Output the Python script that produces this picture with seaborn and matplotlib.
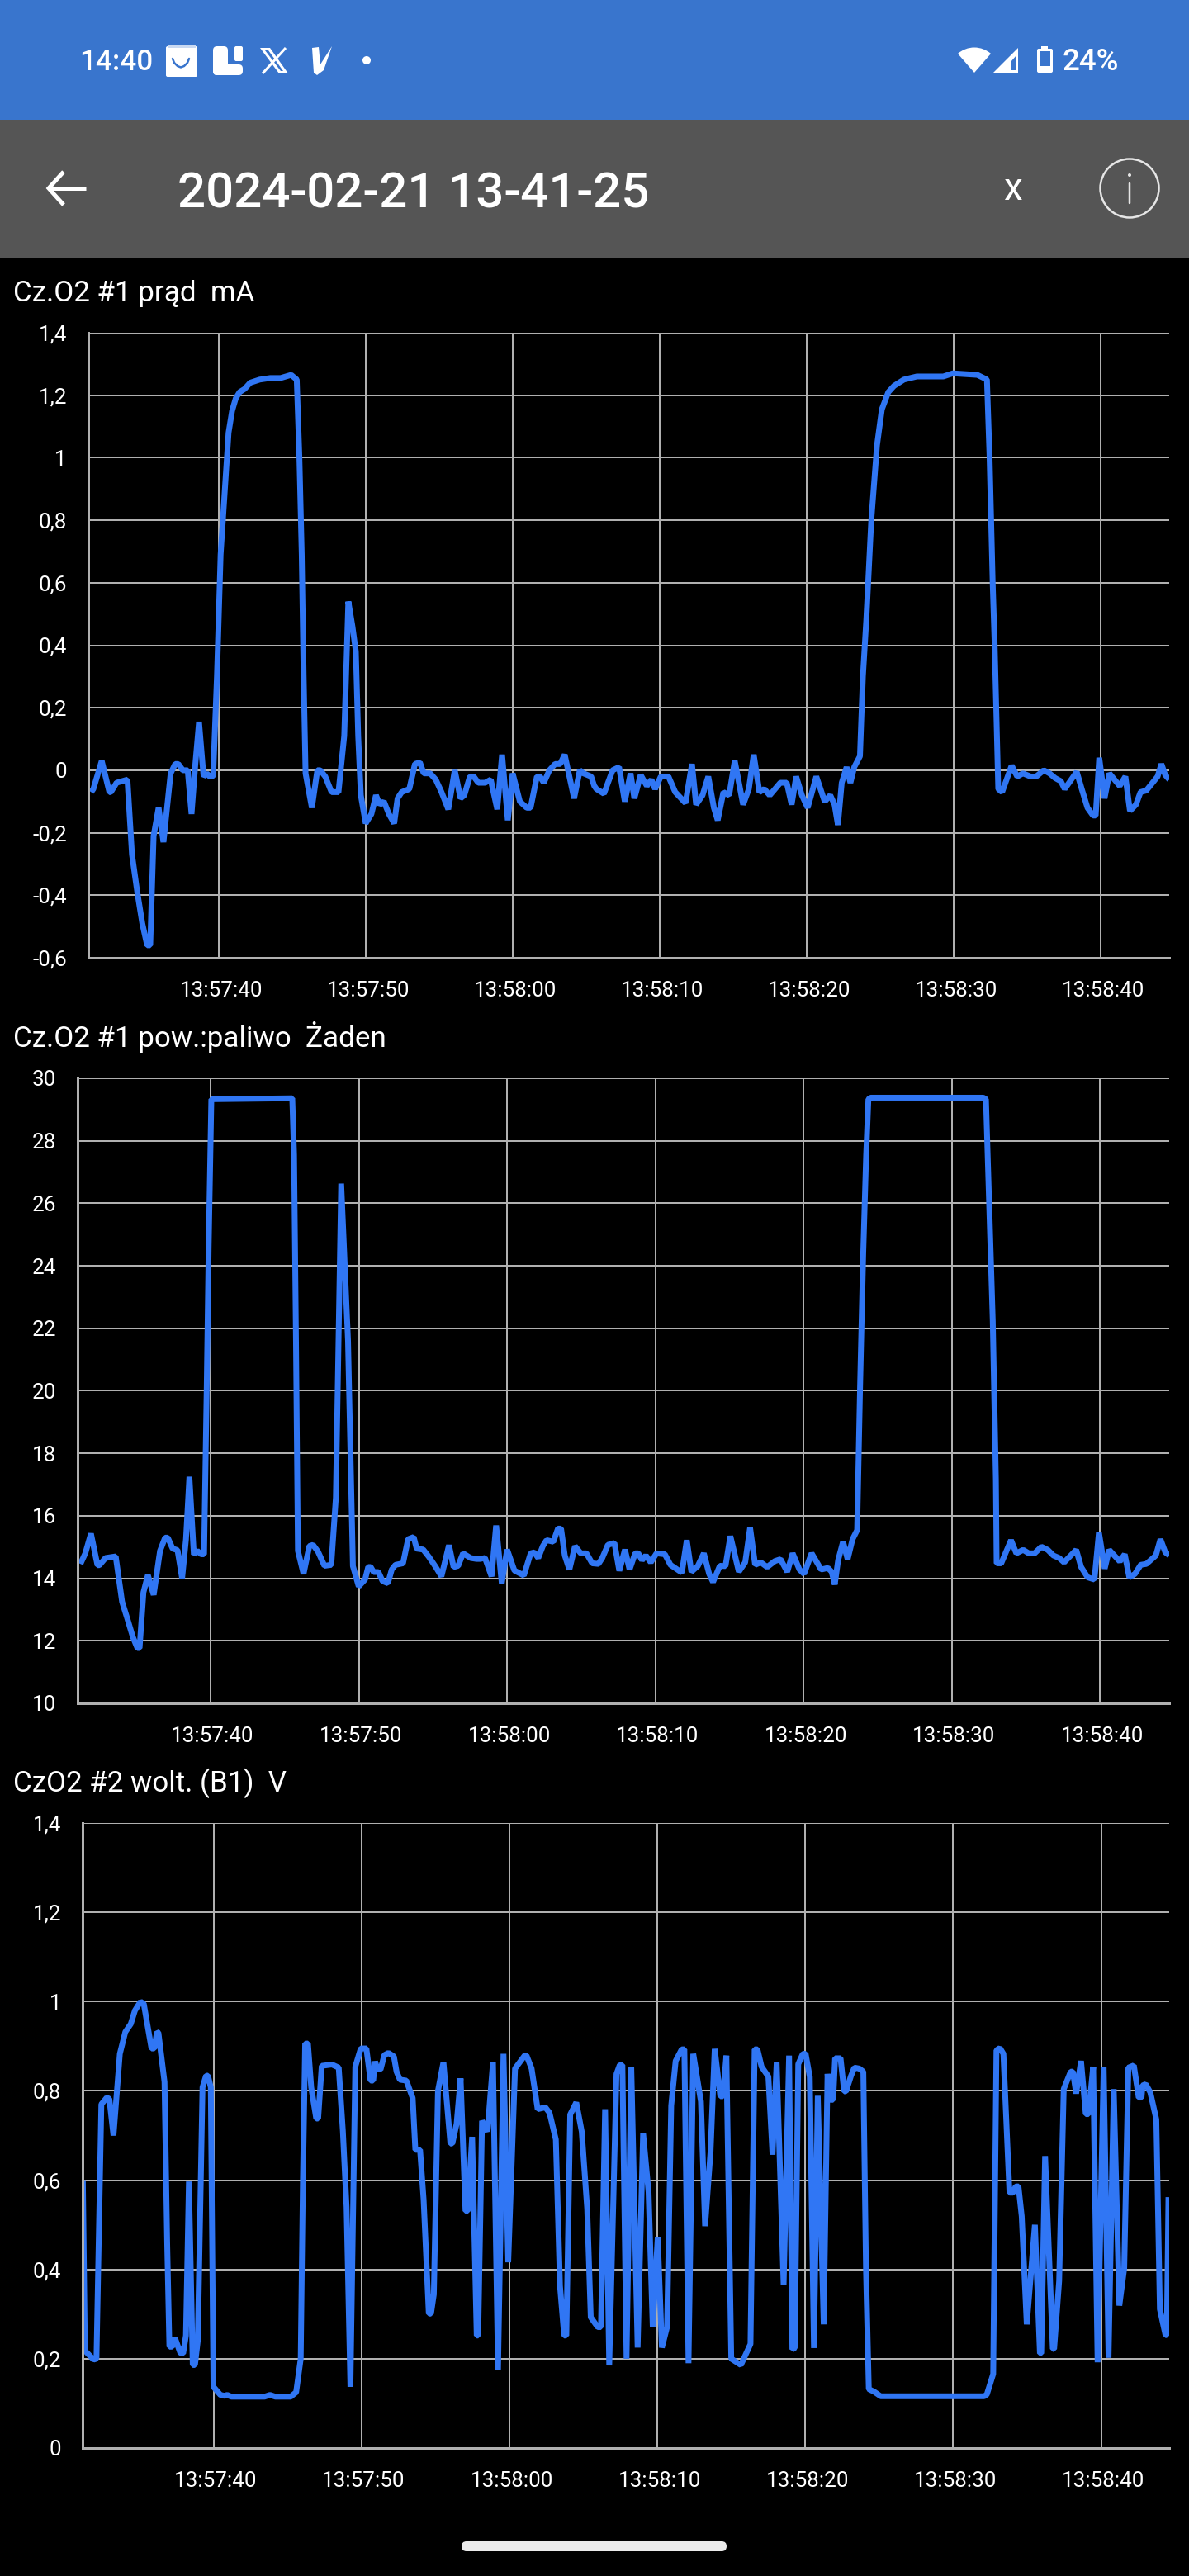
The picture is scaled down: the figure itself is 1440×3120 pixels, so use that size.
import matplotlib
matplotlib.use('Agg')
import matplotlib.pyplot as plt
import seaborn as sns
from matplotlib.patches import Rectangle, FancyBboxPatch, Circle, Wedge, Polygon
from matplotlib.transforms import ScaledTranslation

# seconds after 13:57:00
cur_t = [31.29,31.44,32.01,32.53,32.63,33.02,33.76,34.07,34.43,34.77,35.10,35.31,35.54,35.88,36.21,36.70,37.01,37.22,37.53,37.86,
         38.12,38.38,38.63,38.94,39.15,39.36,39.59,39.85,40.10,40.39,40.64,40.88,41.13,41.39,41.73,42.11,42.76,43.48,44.18,44.90,
         45.28,45.46,45.62,45.75,45.88,46.31,46.68,46.88,47.22,47.65,48.12,48.51,48.79,49.07,49.30,49.46,49.64,49.97,50.36,50.67,
         50.93,51.21,51.55,51.91,52.14,52.42,52.94,53.32,53.66,53.92,54.36,54.74,55.13,55.59,56.03,56.42,56.68,57.06,57.32,57.63,
         58.09,58.48,58.92,59.25,59.64,59.97,60.46,60.93,61.19,61.62,61.83,62.09,62.47,62.86,63.20,63.51,64.15,64.54,64.79,65.31,
         65.52,65.67,66.18,66.77,67.21,67.60,67.99,68.25,68.68,69.10,69.41,69.66,70.05,70.57,71.03,71.73,72.17,72.45,72.89,73.28,
         73.66,73.92,74.31,74.70,75.08,75.65,76.04,76.37,76.76,77.09,77.46,78.18,78.62,78.95,79.26,79.65,80.04,80.63,81.20,81.58,
         81.87,82.10,82.36,82.69,82.95,83.21,83.60,83.80,84.03,84.37,84.76,85.09,85.53,85.92,86.59,87.47,88.24,89.27,89.92,91.59,
         92.24,92.42,92.63,92.76,93.01,93.27,93.92,94.30,94.69,95.21,95.59,96.11,96.50,96.88,97.27,97.53,98.35,98.69,99.08,99.46,
         99.64,99.88,100.24,100.57,101.27,101.66,101.97,102.38,102.69,103.08,103.85,104.11,104.37,104.65]
cur_v = [-0.07,-0.06,0.03,-0.07,-0.07,-0.04,-0.03,-0.27,-0.39,-0.49,-0.56,-0.56,-0.21,-0.12,-0.23,-0.01,0.02,0.02,0.0,0.0,
         -0.14,0.02,0.155,-0.02,-0.01,-0.02,-0.02,0.30,0.69,0.90,1.08,1.15,1.19,1.21,1.22,1.24,1.25,1.255,1.255,1.265,
         1.25,1.00,0.69,0.30,-0.01,-0.12,0.0,0.0,-0.02,-0.07,-0.07,0.11,0.54,0.46,0.38,0.11,-0.08,-0.17,-0.14,-0.08,
         -0.11,-0.10,-0.14,-0.17,-0.09,-0.07,-0.06,0.02,0.025,-0.01,-0.01,-0.03,-0.07,-0.125,0.0,-0.09,-0.08,-0.02,-0.02,-0.04,
         -0.04,-0.03,-0.125,0.05,-0.16,-0.01,-0.10,-0.12,-0.12,-0.02,-0.02,-0.04,0.0,0.02,0.02,0.05,-0.09,0.0,-0.01,-0.02,
         -0.05,-0.06,-0.075,0.0,0.01,-0.10,-0.01,-0.09,-0.015,-0.05,-0.03,-0.06,-0.02,-0.02,-0.07,-0.105,0.02,-0.11,-0.08,-0.02,
         -0.12,-0.16,-0.07,-0.08,0.03,-0.11,-0.06,0.05,-0.07,-0.06,-0.08,-0.04,-0.04,-0.11,-0.02,-0.08,-0.12,-0.02,-0.10,-0.08,
         -0.11,-0.175,-0.04,0.01,-0.04,0.01,0.045,0.30,0.48,0.80,1.04,1.155,1.21,1.23,1.25,1.26,1.26,1.26,1.27,1.265,
         1.25,1.00,0.60,0.41,-0.06,-0.07,0.015,-0.02,-0.01,-0.02,-0.02,0.0,-0.01,-0.025,-0.035,-0.06,-0.005,-0.06,-0.12,-0.145,
         -0.145,0.04,-0.09,-0.01,-0.05,-0.02,-0.13,-0.11,-0.07,-0.065,-0.02,0.02,-0.015,-0.03]

lam_t = [31.22,31.55,31.93,32.37,32.50,32.91,33.60,34.03,34.37,34.75,35.06,35.21,35.47,35.77,36.16,36.59,36.93,37.11,37.44,37.77,
         38.08,38.34,38.57,38.87,39.10,39.36,39.56,39.74,39.87,40.05,45.51,45.63,45.76,45.89,46.27,46.66,46.91,47.25,47.68,48.14,
         48.45,48.63,48.81,49.04,49.27,49.47,49.60,49.99,50.42,50.63,50.80,51.00,51.32,51.60,51.96,52.22,52.47,52.98,53.32,53.70,
         53.90,54.34,54.72,55.19,55.57,56.08,56.39,56.70,57.03,57.54,57.93,58.18,58.51,58.95,59.26,59.64,60.00,60.49,61.13,61.59,
         61.84,62.10,62.41,62.66,63.12,63.43,63.64,63.89,64.20,64.58,64.97,65.35,65.74,66.16,66.42,66.80,67.24,67.57,67.95,68.26,
         68.64,68.85,69.10,69.36,69.69,70.08,70.64,71.02,71.79,72.12,72.43,72.86,73.27,73.63,73.89,74.35,74.73,75.06,75.63,76.06,
         76.39,76.73,77.11,77.54,78.06,78.44,78.90,79.26,79.72,80.03,80.54,81.18,81.64,81.89,82.10,82.33,82.66,82.97,83.30,83.61,
         83.81,84.02,84.22,84.37,84.53,92.12,92.30,92.51,92.76,92.97,93.02,93.33,93.99,94.35,94.81,95.19,95.58,96.04,96.47,96.85,
         97.24,97.57,98.39,98.72,99.16,99.62,99.92,100.31,100.61,101.33,101.66,101.97,102.35,102.74,103.12,103.76,104.07,104.40,104.68]
lam_v = [14.46,14.8,15.43,14.42,14.42,14.65,14.7,13.25,12.73,12.13,11.77,11.77,13.55,14.1,13.47,14.88,15.3,15.3,14.95,14.9,
         14.0,15.25,17.25,14.76,14.88,14.77,14.77,20.14,24.6,29.33,29.36,27.55,21.6,14.88,14.14,15.03,15.07,14.85,14.4,14.43,
         16.58,21.6,26.63,24.14,21.6,17.17,14.39,13.74,13.96,14.36,14.36,14.2,14.2,13.91,13.84,14.28,14.43,14.48,15.25,15.32,
         14.95,14.92,14.69,14.36,14.06,15.06,14.36,14.4,14.8,14.65,14.62,14.62,14.65,14.06,15.69,13.84,14.92,14.25,14.09,14.8,
         14.83,14.65,15.03,15.22,15.17,15.59,15.59,14.73,14.28,15.03,14.8,14.8,14.48,14.46,14.65,15.07,15.13,14.24,14.92,14.28,
         14.8,14.8,14.58,14.73,14.51,14.8,14.77,14.43,14.18,15.22,14.21,14.39,14.8,14.14,13.88,14.4,14.39,15.35,14.21,14.51,
         15.62,14.43,14.51,14.36,14.55,14.61,14.21,14.8,14.28,14.14,14.8,14.28,14.33,14.21,13.8,14.58,15.17,14.61,15.25,15.54,
         20.14,24.37,27.55,29.33,29.38,29.38,29.33,26.07,22.22,17.17,14.48,14.48,15.22,14.8,14.91,14.8,14.8,15.01,14.91,14.73,
         14.65,14.51,14.91,14.36,14.03,13.96,15.47,14.31,14.91,14.54,14.77,14.03,14.14,14.43,14.46,14.73,15.25,14.83,14.73]

volt_t = [31.15,31.29,31.88,32.07,32.40,32.77,32.94,33.22,33.65,34.02,34.39,34.67,35.05,35.27,35.79,35.98,36.16,36.26,36.67,36.85,
          37.00,37.19,37.37,37.75,37.93,38.12,38.32,38.58,38.73,38.92,39.24,39.48,39.61,39.80,39.98,40.45,40.73,40.91,41.19,43.43,
          43.80,44.17,45.20,45.57,45.88,46.03,46.18,46.37,46.59,46.93,47.06,47.30,47.99,48.45,48.73,48.98,49.24,49.57,49.94,50.32,
          50.60,50.78,50.91,51.06,51.28,51.53,51.81,52.18,52.36,52.59,53.02,53.45,53.63,53.95,54.19,54.54,54.69,54.88,55.16,55.53,
          56.00,56.13,56.42,56.69,57.02,57.17,57.47,57.78,57.88,58.14,58.51,58.88,59.22,59.59,59.91,60.37,61.02,61.15,61.49,61.90,
          62.42,62.70,63.13,63.41,63.69,63.84,64.10,64.51,64.88,65.25,65.49,65.96,66.18,66.46,66.74,67.23,67.45,67.63,67.91,68.23,
          68.66,69.03,69.40,69.68,70.02,70.30,70.65,70.93,71.23,71.64,71.82,72.10,72.42,72.94,73.22,73.59,73.87,74.25,74.43,74.66,
          74.99,75.64,76.29,76.57,76.76,77.04,77.50,77.78,78.06,78.53,78.90,79.12,79.28,79.52,79.83,80.02,80.30,80.58,80.84,81.24,
          81.50,81.69,81.88,82.01,82.38,82.62,82.75,83.08,83.31,83.64,83.92,84.10,84.29,84.66,85.09,92.09,92.27,92.70,92.83,92.92,
          93.15,93.39,93.57,93.80,94.04,94.22,94.41,94.63,94.97,95.52,95.86,95.95,96.21,96.73,96.82,97.16,97.47,97.94,98.09,98.31,
          98.64,98.96,99.15,99.46,99.76,100.17,100.50,100.85,101.23,101.56,101.84,102.21,102.54,102.73,102.80,103.01,103.32,103.73,103.97,104.35,
          104.44,104.55]
volt_v = [0.60,0.218,0.198,0.20,0.77,0.785,0.782,0.70,0.883,0.932,0.95,0.98,1.0,0.995,0.895,0.895,0.932,0.93,0.82,0.46,
          0.227,0.227,0.247,0.212,0.212,0.252,0.597,0.186,0.186,0.24,0.808,0.834,0.834,0.808,0.137,0.119,0.117,0.119,0.115,0.115,
          0.119,0.115,0.115,0.125,0.20,0.60,0.906,0.906,0.808,0.738,0.738,0.856,0.859,0.852,0.71,0.54,0.137,0.854,0.895,0.895,
          0.823,0.823,0.866,0.848,0.848,0.88,0.885,0.877,0.843,0.825,0.823,0.784,0.668,0.668,0.556,0.301,0.301,0.344,0.80,0.864,
          0.682,0.682,0.726,0.828,0.531,0.531,0.697,0.252,0.252,0.733,0.709,0.864,0.175,0.883,0.416,0.85,0.879,0.879,0.85,0.759,
          0.763,0.751,0.691,0.363,0.252,0.252,0.747,0.774,0.709,0.536,0.293,0.271,0.271,0.759,0.185,0.838,0.858,0.858,0.20,0.854,
          0.225,0.705,0.573,0.271,0.473,0.225,0.271,0.767,0.867,0.893,0.893,0.19,0.883,0.776,0.497,0.664,0.894,0.788,0.788,0.879,
          0.20,0.186,0.233,0.893,0.893,0.854,0.832,0.657,0.864,0.366,0.879,0.221,0.224,0.86,0.883,0.883,0.831,0.224,0.789,0.277,
          0.838,0.78,0.78,0.873,0.873,0.799,0.799,0.833,0.852,0.85,0.843,0.40,0.132,0.126,0.116,0.116,0.12,0.166,0.60,0.891,
          0.896,0.883,0.746,0.572,0.572,0.586,0.586,0.519,0.277,0.50,0.212,0.212,0.654,0.222,0.222,0.374,0.804,0.843,0.843,0.794,
          0.867,0.748,0.748,0.854,0.192,0.854,0.202,0.804,0.319,0.403,0.852,0.857,0.785,0.785,0.812,0.815,0.797,0.736,0.311,0.253,
          0.253,0.562]

x_ticks = [40, 50, 60, 70, 80, 90, 100]
x_labels = ['13:57:40', '13:57:50', '13:58:00', '13:58:10', '13:58:20', '13:58:30', '13:58:40']
cur_ticks = [-0.6, -0.4, -0.2, 0, 0.2, 0.4, 0.6, 0.8, 1, 1.2, 1.4]
lam_ticks = [10, 12, 14, 16, 18, 20, 22, 24, 26, 28, 30]
volt_ticks = [0, 0.2, 0.4, 0.6, 0.8, 1, 1.2, 1.4]

LINE = '#3076f4'
GRID = '#b0b0b0'
TICK = '#999999'
W, H = 1440, 3120

sns.set_theme(style='dark', rc={'axes.facecolor': 'black', 'figure.facecolor': 'black'})
plt.rcParams['font.family'] = ['Roboto', 'DejaVu Sans']

fig = plt.figure(figsize=(W / 100, H / 100), dpi=100)


def px(v):
    # font and line sizes come from the screenshot in pixels
    return v * 0.72


def panel(box, t, v, xlim, ylim, yticks, title, title_y):
    left, top, right, bottom = box
    ax = fig.add_axes([left / W, 1 - bottom / H, (right - left) / W, (bottom - top) / H])
    ax.set_axisbelow(True)
    sns.lineplot(x=t, y=v, ax=ax, color=LINE, linewidth=px(7), estimator=None, sort=False,
                 solid_joinstyle='bevel', solid_capstyle='butt')
    ax.set_xlim(*xlim)
    ax.set_ylim(*ylim)
    ax.set_xticks(x_ticks)
    ax.set_xticklabels(x_labels)
    ax.set_yticks(yticks)
    ax.set_yticklabels([str(y).replace('.', ',') for y in yticks])
    ax.set_xlabel('')
    ax.set_ylabel('')
    ax.grid(True, color=GRID, linewidth=px(2))
    ax.tick_params(axis='x', colors=TICK, length=px(16), width=px(3), pad=px(12), labelsize=px(26), labelcolor='white')
    ax.tick_params(axis='y', colors=TICK, length=px(15), width=px(2.5), pad=px(11), labelsize=px(26), labelcolor='white')
    # labels sit a little right of their ticks on the phone
    for lab in ax.get_xticklabels():
        lab.set_transform(lab.get_transform() + ScaledTranslation(0.025, 0, fig.dpi_scale_trans))
    for side in ['top', 'right']:
        ax.spines[side].set_visible(False)
    for side in ['left', 'bottom']:
        ax.spines[side].set_color(GRID)
        ax.spines[side].set_linewidth(px(3))
    fig.text(16 / W, 1 - title_y / H, title, color='white', fontsize=px(35), va='baseline', ha='left')
    return ax


panel((107, 403, 1416, 1160), cur_t, cur_v, (31.1, 104.64), (-0.6, 1.4), cur_ticks, 'Cz.O2 #1 prąd  mA', 365)
panel((94, 1306, 1416, 2063), lam_t, lam_v, (31.03, 104.66), (10, 30), lam_ticks, 'Cz.O2 #1 pow.:paliwo  Żaden', 1268)
panel((100, 2208, 1416, 2965), volt_t, volt_v, (31.13, 104.6), (0, 1.4), volt_ticks, 'CzO2 #2 wolt. (B1)  V', 2170)

# phone status bar and app bar, drawn in screen pixels
ui = fig.add_axes([0, 0, 1, 1], zorder=5)
ui.set_xlim(0, W)
ui.set_ylim(H, 0)
ui.axis('off')
ui.patch.set_alpha(0)
BLUE = '#3975cd'
GRAY = '#555555'
ui.add_patch(Rectangle((0, 0), W, 145, color=BLUE, lw=0))
ui.add_patch(Rectangle((0, 145), W, 167, color=GRAY, lw=0))

ui.text(96, 85, '14:40', color='white', fontsize=px(35), fontweight='medium', va='baseline', ha='left')
ui.text(1287, 85, '24%', color='white', fontsize=px(36.5), fontweight='medium', va='baseline', ha='left')
ui.text(215, 252, '2024-02-21 13-41-25', color='white', fontsize=px(60), fontweight='medium', va='baseline', ha='left')
ui.text(1227, 229, 'x', color='white', fontsize=px(46), va='center', ha='center')

# notification icons
ui.add_patch(FancyBboxPatch((201, 56), 38, 37, boxstyle='round,pad=0,rounding_size=2', color='white', lw=0))
ui.add_patch(Rectangle((203, 54), 34, 4, color='#c9d9f2', lw=0))
ui.plot([209, 211, 215, 219, 223, 227, 229], [71, 76, 80, 81.5, 80, 76, 71], color=BLUE, lw=px(2.5))
ui.add_patch(FancyBboxPatch((258, 56), 18, 35, boxstyle='round,pad=0,rounding_size=5', color='white', lw=0))
ui.add_patch(FancyBboxPatch((258, 78), 36, 13, boxstyle='round,pad=0,rounding_size=5', color='white', lw=0))
ui.add_patch(FancyBboxPatch((284, 56), 10, 18, boxstyle='round,pad=0,rounding_size=2', color='white', lw=0))
ui.add_patch(Polygon([(315, 58), (327, 58), (349, 89), (338, 89)], color='white', lw=0))
ui.add_patch(Polygon([(321, 61), (325, 61), (343, 86), (340, 86)], color=BLUE, lw=0))
ui.plot([346, 318], [58, 89], color='white', lw=px(3), solid_capstyle='butt')
ui.add_patch(Polygon([(378, 58), (386, 57), (388, 78), (402, 56), (392, 85), (384, 91), (380, 88)], color='white', lw=0))
ui.add_patch(Circle((444, 73), 5, color='white', lw=0))

# wifi, signal, battery
ui.add_patch(Wedge((1180, 88), 30.5, 229, 311, color='white', lw=0))
ui.add_patch(Polygon([(1203, 88), (1233, 58), (1233, 88)], color='white', lw=0))
ui.add_patch(Polygon([(1224, 75), (1231, 67), (1231, 85), (1224, 85)], color=BLUE, lw=0))
ui.add_patch(Rectangle((1261, 56), 8, 5, color='white', lw=0))
ui.add_patch(FancyBboxPatch((1256, 59), 19, 29, boxstyle='round,pad=0,rounding_size=2', color='white', lw=0))
ui.add_patch(Rectangle((1259, 62), 13, 18, color=BLUE, lw=0))

# back arrow and info button
ui.plot([104, 60], [228, 228], color='white', lw=px(5), solid_capstyle='butt')
ui.plot([77, 59, 77], [208, 228, 248], color='white', lw=px(5), solid_joinstyle='miter', solid_capstyle='butt')
ui.add_patch(Circle((1368, 228), 35.5, fill=False, ec='#e6e6e6', lw=px(2.5)))
ui.plot([1368, 1368], [222, 246], color='#e6e6e6', lw=px(2.5))
ui.add_patch(Circle((1368, 212), 2, color='#e6e6e6', lw=0))

# home indicator
ui.add_patch(FancyBboxPatch((559, 3078), 321, 12, boxstyle='round,pad=0,rounding_size=6', color='#ebebeb', lw=0))

fig.savefig('out.png', dpi=100, facecolor='black')
